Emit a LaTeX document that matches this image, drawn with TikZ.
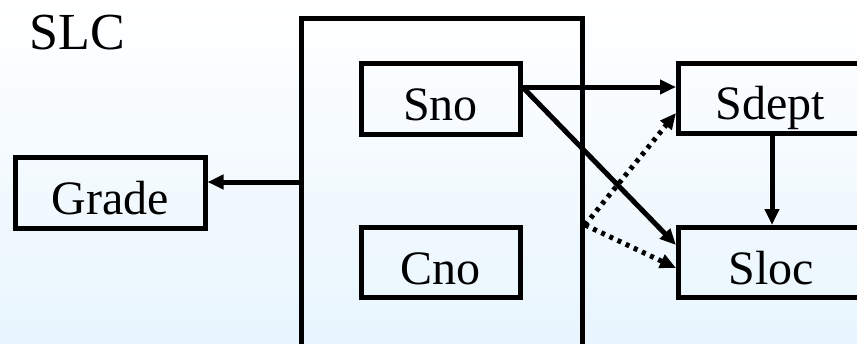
\documentclass[tikz,border=0pt]{standalone}
\usepackage{fontspec}
\setmainfont{Liberation Serif}
\usetikzlibrary{arrows.meta}
\begin{document}
\begin{tikzpicture}[x=1pt,y=-1pt,
  box/.style={draw,line width=5pt,inner sep=0pt,text height=43pt,text depth=0pt,font=\fontsize{48}{52}\selectfont},
  arr/.style={line width=5pt,-{Triangle[length=16pt,width=14pt]}},
  dotarr/.style={line width=5pt,dash pattern=on 4pt off 5pt,-{Triangle[length=16pt,width=14pt]}}]
\useasboundingbox (0,0) rectangle (857,343);
\clip (0,0) rectangle (857,343);
\shade[top color=white,bottom color={rgb,255:red,232;green,245;blue,254}] (0,0) rectangle (857,343);
\node[font=\fontsize{52}{56}\selectfont] (slc) at (77,33) {SLC};
\node[draw,line width=5pt,minimum width=281pt,minimum height=360pt,anchor=north west,inner sep=0pt] (big) at (299,16) {};
\node[box,minimum width=159pt,minimum height=71pt] (sno) at (440.5,98.5) {Sno};
\node[box,minimum width=159pt,minimum height=70pt] (cno) at (440.5,262.5) {Cno};
\node[box,minimum width=190pt,minimum height=71pt] (grade) at (110,192.5) {Grade};
\node[box,minimum width=194pt,minimum height=70pt,anchor=west,text width=174pt,align=left] (sdept) at (676,98) {\hspace*{27pt}Sdept};
\node[box,minimum width=194pt,minimum height=70pt,anchor=west,text width=174pt,align=left] (sloc) at (676,262.5) {\hspace*{40pt}Sloc};
\coordinate (bigW) at (big.west |- 0,182);
\coordinate (bigE) at (big.east |- 0,225);
\coordinate (snoE) at (sno.east |- 0,87);
\draw[arr] (bigW) -- (grade.east |- bigW);
\draw[arr] (snoE) -- (sdept.west |- snoE);
\draw[arr] (snoE) -- (sloc.west |- 0,245);
\draw[dotarr] (bigE) -- (sdept.west |- 0,113);
\draw[dotarr] (bigE) -- (sloc.west |- 0,268);
\draw[arr] (sdept.south -| 772,0) -- (sloc.north -| 772,0);
\end{tikzpicture}
\end{document}
